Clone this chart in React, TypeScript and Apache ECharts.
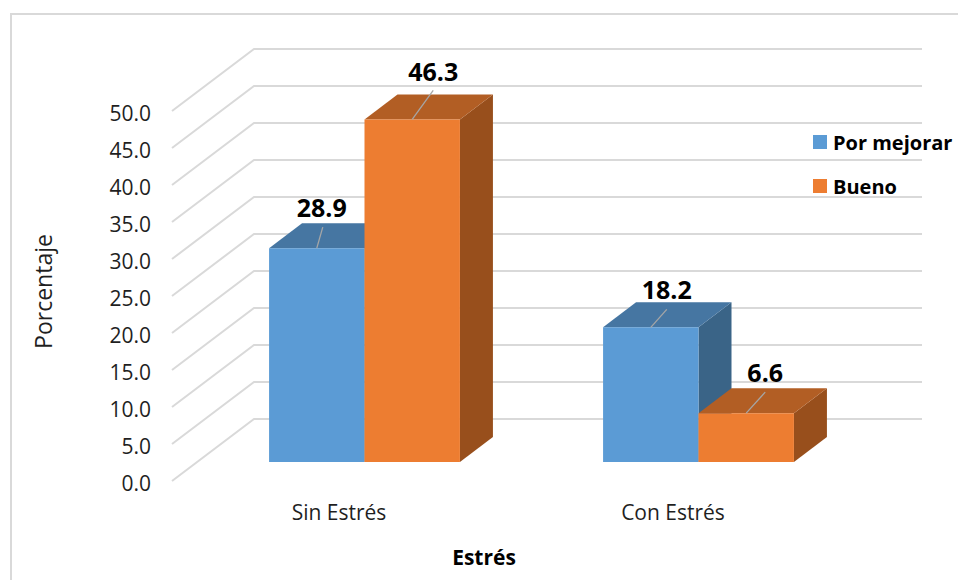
import React, { useEffect, useRef } from "react";
import * as echarts from "echarts";

const categories = ["Sin Estrés", "Con Estrés"];
const porMejorar = [28.9, 18.2];
const bueno = [46.3, 6.6];
const wallTicks = [0, 5, 10, 15, 20, 25, 30, 35, 40, 45, 50];

const FONT = "Open Sans";
const FRONT_LEFT = 172;
const FLOOR_WIDTH = 668;
const WALL_DX = 82;
const WALL_DY = -62;
const BAR_SHIFT_X = 25.5;
const BAR_SHIFT_Y = -19;
const DEPTH_DX = 33;
const DEPTH_DY = -25;
const BAR_RATIO = 1 / 3.5;

// Value-label placement relative to the front-top centre of each bar: [leader end x, leader end y, text x, text y]
const labelShiftA = [
  [6, -21, 5, -41],
  [16, -18, 16, -38],
];
const labelShiftB = [
  [21, -29, 21, -48],
  [19, -21, 19, -41],
];

function bar3d(
  slot: number,
  front: string,
  top: string,
  side: string,
  labelShift: number[][]
) {
  return (params: any, api: any) => {
    const cat = api.value(0);
    const val = api.value(1);
    const base = api.coord([cat, 0]);
    const head = api.coord([cat, val]);
    const w = api.size([1, 0])[0] * BAR_RATIO;
    const x0 = base[0] + BAR_SHIFT_X + slot * w;
    const x1 = x0 + w;
    const yb = base[1] + BAR_SHIFT_Y;
    const yt = head[1] + BAR_SHIFT_Y;
    const cx = (x0 + x1) / 2;
    const [lx, ly, tx, ty] = labelShift[params.dataIndex];
    return {
      type: "group",
      children: [
        {
          type: "polygon",
          shape: { points: [[x1, yt], [x1 + DEPTH_DX, yt + DEPTH_DY], [x1 + DEPTH_DX, yb + DEPTH_DY], [x1, yb]] },
          style: { fill: side },
        },
        {
          type: "polygon",
          shape: { points: [[x0, yt], [x0 + DEPTH_DX, yt + DEPTH_DY], [x1 + DEPTH_DX, yt + DEPTH_DY], [x1, yt]] },
          style: { fill: top },
        },
        {
          type: "polygon",
          shape: { points: [[x0, yt], [x1, yt], [x1, yb], [x0, yb]] },
          style: { fill: front },
        },
        {
          type: "line",
          shape: { x1: cx, y1: yt, x2: cx + lx, y2: yt + ly },
          style: { stroke: "#a6a6a6", lineWidth: 1.3 },
        },
        {
          type: "text",
          x: cx + tx,
          y: yt + ty,
          style: {
            text: val.toFixed(1),
            font: `bold 25px ${FONT}`,
            fill: "#000000",
            align: "center",
            verticalAlign: "middle",
          },
        },
      ],
    };
  };
}

export default function App() {
  const ref = useRef<HTMLDivElement>(null);

  useEffect(() => {
    const chart = echarts.init(ref.current!, null, { renderer: "svg" });
    chart.setOption({
      animation: false,
      backgroundColor: "#ffffff",
      graphic: [
        {
          type: "polyline",
          shape: { points: [[11, 580], [11, 14], [958, 14]] },
          style: { stroke: "#d9d9d9", lineWidth: 2, fill: "none" },
        },
      ],
      legend: {
        data: ["Por mejorar", "Bueno"],
        orient: "vertical",
        left: 813,
        top: 132,
        padding: 0,
        itemWidth: 14,
        itemHeight: 14,
        itemGap: 24,
        icon: "rect",
        textStyle: { fontFamily: FONT, fontWeight: "bold", fontSize: 20, color: "#000000", padding: [0, 0, 0, 1] },
      },
      grid: { left: FRONT_LEFT, width: FLOOR_WIDTH, top: 111, height: 370 },
      xAxis: {
        type: "category",
        data: categories,
        axisLine: { show: false },
        axisTick: { show: false },
        axisLabel: { fontFamily: FONT, fontSize: 21, color: "#1f1f1f", margin: 20 },
        name: "Estrés",
        nameLocation: "middle",
        nameGap: 65,
        nameTextStyle: { fontFamily: FONT, fontSize: 21, fontWeight: "bold", color: "#000000", padding: [0, 44, 0, 0] },
      },
      yAxis: {
        type: "value",
        min: 0,
        max: 50,
        interval: 5,
        axisLine: { show: false },
        axisTick: { show: false },
        splitLine: { show: false },
        axisLabel: {
          margin: 21,
          formatter: (v: number) => `{tick|${v.toFixed(1)}}`,
          rich: {
            tick: { fontFamily: FONT, fontSize: 21, color: "#1f1f1f", padding: [4, 0, 0, 0] },
          },
        },
        name: "Porcentaje",
        nameLocation: "middle",
        nameGap: 110,
        nameTextStyle: { fontFamily: FONT, fontSize: 23, color: "#1f1f1f", padding: [0, 0, 8, 9] },
      },
      series: [
        {
          type: "custom",
          name: "wall",
          silent: true,
          data: wallTicks.map((t) => [0, t]),
          encode: { x: 0, y: 1 },
          renderItem: (_p: any, api: any) => {
            const y = api.coord([0, api.value(1)])[1];
            return {
              type: "polyline",
              shape: {
                points: [
                  [FRONT_LEFT, y],
                  [FRONT_LEFT + WALL_DX, y + WALL_DY],
                  [FRONT_LEFT + WALL_DX + FLOOR_WIDTH, y + WALL_DY],
                ],
              },
              style: { stroke: "#d9d9d9", lineWidth: 2, fill: "none" },
            };
          },
        },
        {
          type: "custom",
          name: "Por mejorar",
          itemStyle: { color: "#5B9BD5" },
          data: porMejorar.map((v, i) => [i, v]),
          encode: { x: 0, y: 1 },
          renderItem: bar3d(-1, "#5B9BD5", "#4676A2", "#3A6487", labelShiftA),
        },
        {
          type: "custom",
          name: "Bueno",
          itemStyle: { color: "#ED7D31" },
          data: bueno.map((v, i) => [i, v]),
          encode: { x: 0, y: 1 },
          renderItem: bar3d(0, "#ED7D31", "#B25E24", "#984F1C", labelShiftB),
        },
      ],
    });
    return () => chart.dispose();
  }, []);

  return <div ref={ref} style={{ position: "absolute", left: 0, top: 0, width: 958, height: 580 }} />;
}
